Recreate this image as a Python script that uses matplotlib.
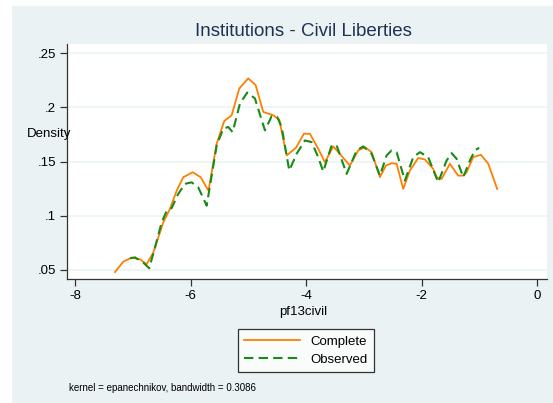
import matplotlib.pyplot as plt
from matplotlib.patches import Rectangle

plt.rcParams['font.family'] = ['Liberation Sans', 'DejaVu Sans']

# kernel density, complete data (orange)
x_complete = [-7.308, -7.164, -7.019, -6.875, -6.760, -6.645, -6.559, -6.472, -6.356,
              -6.240, -6.126, -5.964, -5.825, -5.690, -5.548, -5.417, -5.289, -5.157,
              -5.002, -4.874, -4.742, -4.569, -4.465, -4.337, -4.176, -4.038, -3.934,
              -3.791, -3.675, -3.531, -3.242, -3.099, -2.983, -2.867, -2.723, -2.619,
              -2.521, -2.434, -2.320, -2.204, -2.061, -1.945, -1.801, -1.742, -1.656,
              -1.512, -1.369, -1.282, -1.223, -1.109, -0.976, -0.849, -0.694]
y_complete = [0.0481, 0.0577, 0.0614, 0.0599, 0.0553, 0.0660, 0.0799, 0.0938, 0.1065,
              0.1231, 0.1355, 0.1401, 0.1355, 0.1231, 0.1664, 0.1873, 0.1926, 0.2173,
              0.2266, 0.2204, 0.1957, 0.1926, 0.1886, 0.1556, 0.1627, 0.1756, 0.1755,
              0.1618, 0.1494, 0.1639, 0.1463, 0.1602, 0.1632, 0.1586, 0.1355, 0.1463,
              0.1484, 0.1479, 0.1247, 0.1417, 0.1532, 0.1519, 0.1432, 0.1355, 0.1340,
              0.1479, 0.1370, 0.1370, 0.1401, 0.1540, 0.1562, 0.1479, 0.1247]

# kernel density, observed data (green dashed)
x_observed = [-7.048, -6.962, -6.818, -6.715, -6.616, -6.500, -6.413, -6.327, -6.213,
              -6.097, -5.981, -5.867, -5.721, -5.548, -5.434, -5.348, -5.272, -5.145,
              -5.019, -4.886, -4.713, -4.597, -4.500, -4.424, -4.292, -4.164, -4.021,
              -3.905, -3.791, -3.704, -3.559, -3.472, -3.299, -3.126, -3.012, -2.867,
              -2.723, -2.607, -2.521, -2.434, -2.291, -2.147, -2.031, -1.888, -1.715,
              -1.569, -1.483, -1.396, -1.282, -1.166, -1.080, -1.005]
y_observed = [0.0608, 0.0616, 0.0568, 0.0516, 0.0707, 0.0938, 0.1046, 0.1071, 0.1201,
              0.1294, 0.1308, 0.1262, 0.1093, 0.1648, 0.1803, 0.1818, 0.1771, 0.2034,
              0.2136, 0.2081, 0.1787, 0.1917, 0.1910, 0.1818, 0.1417, 0.1571, 0.1694,
              0.1679, 0.1540, 0.1407, 0.1648, 0.1648, 0.1386, 0.1602, 0.1639, 0.1571,
              0.1370, 0.1556, 0.1602, 0.1586, 0.1324, 0.1540, 0.1586, 0.1540, 0.1308,
              0.1509, 0.1577, 0.1525, 0.1355, 0.1509, 0.1602, 0.1627]

xticks = [-8, -6, -4, -2, 0]
yticks = [0.05, 0.1, 0.15, 0.2, 0.25]
ytick_labels = ['.05', '.1', '.15', '.2', '.25']

bg = '#eaf2f3'
fig = plt.figure(figsize=(5.53, 4.03), dpi=100)
fig.patches.append(Rectangle((12/553, 0), 1 - 12/553, 1 - 6/403,
                             transform=fig.transFigure, facecolor=bg,
                             edgecolor='none', zorder=-10))

ax = fig.add_axes([67/553, 124/403, 480/553, 235/403])
ax.set_facecolor('white')

l1, = ax.plot(x_complete, y_complete, color='#ff7f00', lw=1.3, label='Complete')
l2, = ax.plot(x_observed, y_observed, color='#168c16', lw=1.5, dashes=(4.5, 2.5),
              label='Observed')

ax.set_xlim(-8.138, 0.168)
ax.set_ylim(0.0417, 0.2583)
ax.set_xticks(xticks)
ax.set_xticklabels([str(t) for t in xticks])
ax.set_yticks(yticks)
ax.set_yticklabels(ytick_labels)
ax.grid(axis='y', color=bg, lw=1.1)
ax.set_axisbelow(True)
for s in ['top', 'right']:
    ax.spines[s].set_visible(False)
for s in ['left', 'bottom']:
    ax.spines[s].set_color('#333333')
    ax.spines[s].set_linewidth(0.9)
ax.tick_params(length=5, width=0.9, color='#333333', labelsize=9.5, pad=3)

fig.text(303/553, 1 - 32/403, 'Institutions - Civil Liberties', ha='center',
         va='center', fontsize=13.5, color='#223152')
fig.text(49/553, 1 - 134/403, 'Density', ha='center', va='center', fontsize=9.5)
fig.text(303/553, 1 - 312/403, 'pf13civil', ha='center', va='center', fontsize=9.5)
fig.text(69/553, 1 - 388/403, 'kernel = epanechnikov, bandwidth = 0.3086',
         ha='left', va='center', fontsize=7)

leg = fig.legend(handles=[l1, l2], loc='center',
                 bbox_to_anchor=(306/553, 1 - 350.5/403), fontsize=9.5,
                 frameon=True, fancybox=False, handlelength=4.2,
                 handletextpad=0.8, borderpad=0.45, labelspacing=0.45)
leg.get_frame().set_edgecolor('black')
leg.get_frame().set_linewidth(0.9)

fig.savefig('out.png', dpi=100)
